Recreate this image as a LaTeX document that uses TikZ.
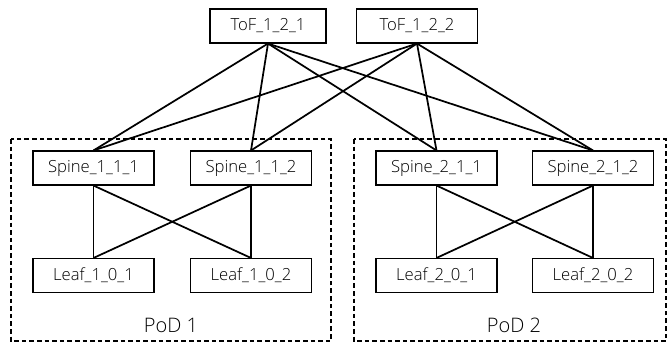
\documentclass[tikz,border=0pt]{standalone}
\usepackage{fontspec}
\setmainfont{Open Sans}[UprightFont=* Light]
\usetikzlibrary{positioning}

\tikzset{
	sw/.style={draw, line width=0.8pt, minimum width=90.75pt, minimum height=25.5pt, inner sep=0pt, font=\fontsize{12.5}{14}\selectfont},
	link/.style={line width=1.3pt},
	pod/.style={draw, dash pattern=on 3.5pt off 2.2pt, line width=0.8pt}
}

\begin{document}
\begin{tikzpicture}[x=0.75pt,y=-0.75pt]
			\useasboundingbox (0,0) rectangle (668,344);
			\draw[pod] (11,139) rectangle (331,341);
			\draw[pod] (354,139) rectangle (666,341);
			\node[sw, minimum width=87pt] (tof1) at (268,26) {ToF\_1\_2\_1};
			\node[sw] (tof2) at (417,26) {ToF\_1\_2\_2};
			\node[sw] (sp11) at (93.5,168) {Spine\_1\_1\_1};
			\node[sw] (sp12) at (251,168) {Spine\_1\_1\_2};
			\node[sw] (lf11) at (93.5,275.5) {Leaf\_1\_0\_1};
			\node[sw] (lf12) at (251,275.5) {Leaf\_1\_0\_2};
			\node[sw] (sp21) at (436.5,168) {Spine\_2\_1\_1};
			\node[sw] (sp22) at (593,168) {Spine\_2\_1\_2};
			\node[sw] (lf21) at (436.5,275.5) {Leaf\_2\_0\_1};
			\node[sw] (lf22) at (593,275.5) {Leaf\_2\_0\_2};
			\node[font=\fontsize{15}{18}\selectfont] (pod1) at (171,325) {PoD 1};
			\node[font=\fontsize{15}{18}\selectfont] (pod2) at (514,325) {PoD 2};
			\foreach \t in {tof1,tof2}
				\foreach \s in {sp11,sp12,sp21,sp22}
					\draw[link] (\t.south) -- (\s.north);
			\foreach \s/\l in {sp11/lf11,sp11/lf12,sp12/lf11,sp12/lf12,sp21/lf21,sp21/lf22,sp22/lf21,sp22/lf22}
				\draw[link] (\s.south) -- (\l.north);
\end{tikzpicture}
\end{document}
